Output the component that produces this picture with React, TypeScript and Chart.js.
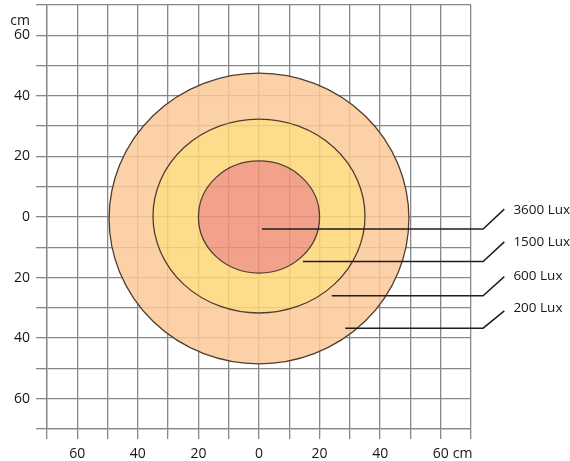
import React, { useEffect, useRef } from "react";
import { Chart, registerables } from "chart.js";

Chart.register(...registerables);

// Axis range (cm) and labelled ticks
const axisMin = -70;
const axisMax = 70;
const axisStep = 10;
const labelledTicks = [-60, -40, -20, 0, 20, 40, 60];

// Illuminance zones (outer → inner), radii in cm
const zoneLux = [200, 1500, 3600];
const zoneRadiusX = [49.5, 35, 20];
const zoneRadiusY = [48, 32, 18.5];
const zoneCenterX = [0, 0, 0];
const zoneCenterY = [-0.5, 0.3, 0];

// Leader lines to the legend labels (cm)
const levelLabels = ["3600 Lux", "1500 Lux", "600 Lux", "200 Lux"];
const leaderStartX = [1, 14.5, 24, 28.5];
const leaderStartY = [-4, -14.7, -26, -36.7];
const leaderElbowX = [74, 74, 74, 74];
const leaderEndX = [81, 81, 81, 81];
const leaderEndY = [2.6, -8.2, -19.7, -31];
const labelPosX = [84, 84, 84, 84];
const labelPosY = [2.2, -8.4, -19.6, -30.2];

const FONT = "'Open Sans', 'Noto Sans', sans-serif";
const TEXT = "#161616";
const GRID = "#878787";
const zoneFills = ["rgba(251,201,153,0.85)", "rgba(253,214,120,0.85)", "rgba(240,146,118,0.85)"];
const zoneStroke = "#4f3d30";

const tickLabel = (v: number) => (labelledTicks.includes(v) ? String(Math.abs(v)) : "");

const zonesPlugin = {
  id: "zones",
  beforeDatasetsDraw(chart: any) {
    const { ctx, scales } = chart;
    const xs = scales.x;
    const ys = scales.y;
    const path = (i: number) => {
      const cx = xs.getPixelForValue(zoneCenterX[i]);
      const cy = ys.getPixelForValue(zoneCenterY[i]);
      const rx = Math.abs(xs.getPixelForValue(zoneCenterX[i] + zoneRadiusX[i]) - cx);
      const ry = Math.abs(ys.getPixelForValue(zoneCenterY[i] + zoneRadiusY[i]) - cy);
      ctx.moveTo(cx + rx, cy);
      ctx.ellipse(cx, cy, rx, ry, 0, 0, Math.PI * 2);
    };
    ctx.save();
    for (let i = 0; i < zoneLux.length; i++) {
      ctx.beginPath();
      path(i);
      if (i + 1 < zoneLux.length) path(i + 1);
      ctx.fillStyle = zoneFills[i];
      ctx.fill("evenodd");
    }
    ctx.strokeStyle = zoneStroke;
    ctx.lineWidth = 1.3;
    for (let i = 0; i < zoneLux.length; i++) {
      ctx.beginPath();
      path(i);
      ctx.stroke();
    }
    ctx.restore();
  },
  afterDatasetsDraw(chart: any) {
    const { ctx, scales } = chart;
    const xs = scales.x;
    const ys = scales.y;
    ctx.save();
    ctx.fillStyle = TEXT;
    ctx.font = `13.5px ${FONT}`;
    ctx.textAlign = "left";
    ctx.textBaseline = "middle";
    levelLabels.forEach((lab, i) => {
      ctx.fillText(lab, xs.getPixelForValue(labelPosX[i]), ys.getPixelForValue(labelPosY[i]));
    });
    // unit labels
    ctx.font = `14px ${FONT}`;
    ctx.textAlign = "right";
    ctx.fillText("cm", 30, ys.getPixelForValue(64.6));
    const lastX = xs.getPixelForValue(60);
    const w = ctx.measureText("60").width;
    ctx.textAlign = "left";
    const tickY = xs.top + 10 + 7 + 8.4;
    ctx.fillText("cm", lastX + w / 2 + 4, tickY);
    ctx.restore();
  },
};

export default function App() {
  const ref = useRef<HTMLCanvasElement | null>(null);
  useEffect(() => {
    if (!ref.current) return;
    // points listed right-to-left so every point (also those past the axis end) is drawn
    const datasets = levelLabels.map((lab, i) => ({
      label: lab,
      data: [
        { x: leaderEndX[i], y: leaderEndY[i] },
        { x: leaderElbowX[i], y: leaderStartY[i] },
        { x: leaderStartX[i], y: leaderStartY[i] },
      ],
      showLine: true,
      borderColor: "#1e1e1e",
      borderWidth: 1.5,
      pointRadius: 0,
      fill: false,
      clip: false as any,
      tension: 0,
    }));
    const chart = new Chart(ref.current, {
      type: "scatter",
      data: { datasets },
      plugins: [zonesPlugin],
      options: {
        animation: false,
        responsive: false,
        layout: { padding: { top: 5, right: 99, left: 0, bottom: 0 } },
        plugins: { legend: { display: false }, tooltip: { enabled: false } },
        scales: {
          x: {
            type: "linear",
            min: axisMin,
            max: axisMax,
            afterFit: (s: any) => {
              s.height = 32;
              s.paddingLeft = 0;
              s.paddingRight = 0;
            },
            grid: { color: GRID, lineWidth: 1.3, tickLength: 10, tickColor: GRID },
            border: { color: GRID, width: 1.3 },
            ticks: {
              stepSize: axisStep,
              autoSkip: false,
              maxRotation: 0,
              padding: 7,
              color: TEXT,
              font: { family: FONT, size: 14 },
              callback: (v: any) => tickLabel(Number(v)),
            },
          },
          y: {
            type: "linear",
            min: axisMin,
            max: axisMax,
            afterFit: (s: any) => {
              s.width = 47;
              s.paddingTop = 0;
              s.paddingBottom = 0;
            },
            grid: { color: GRID, lineWidth: 1.3, tickLength: 11, tickColor: GRID },
            border: { color: GRID, width: 1.3 },
            ticks: {
              stepSize: axisStep,
              autoSkip: false,
              padding: 6,
              color: TEXT,
              font: { family: FONT, size: 14 },
              callback: (v: any) => tickLabel(Number(v)),
            },
          },
        },
      },
    });
    return () => chart.destroy();
  }, []);
  return (
    <div style={{ position: "absolute", left: 0, top: 0, width: 570, height: 461, background: "#fff" }}>
      <canvas ref={ref} width={570} height={461} style={{ display: "block" }} />
    </div>
  );
}
